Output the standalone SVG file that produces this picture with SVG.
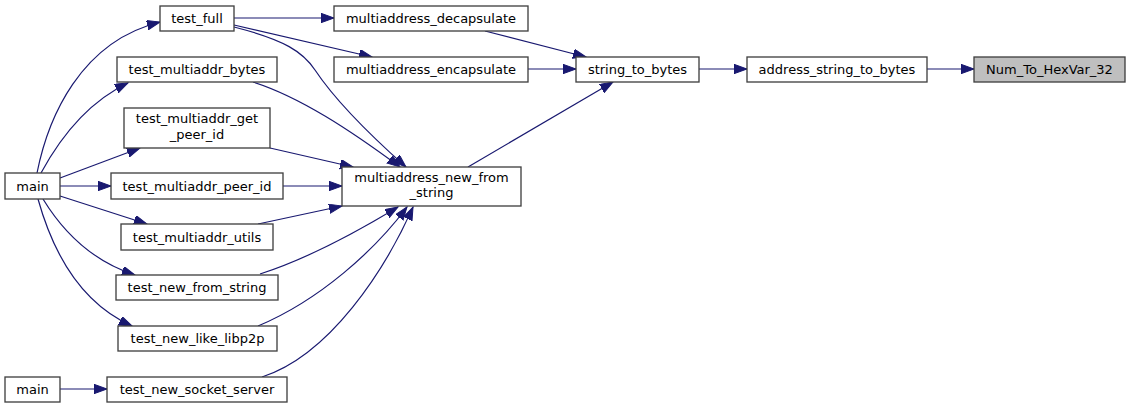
<svg xmlns="http://www.w3.org/2000/svg" width="1131" height="408" viewBox="0 0 1131 408">
<style>
.n rect{fill:#fff;stroke:#404040;stroke-width:1.33}
.n text{font-family:"DejaVu Sans",sans-serif;font-size:13px;fill:#000;text-anchor:middle}
.hl rect{fill:#bfbfbf}
#edges path{fill:none;stroke:#191970;stroke-width:1.2;marker-end:url(#ah)}
</style>
<defs>
<marker id="ah" markerUnits="userSpaceOnUse" markerWidth="15" markerHeight="11" refX="13" refY="4.7" orient="auto">
<path d="M0,0 L13,4.7 L0,9.4 z" fill="#191970" stroke="#191970" stroke-width="1"/>
</marker>
</defs>
<rect width="1131" height="408" fill="#fff"/>
<g id="edges">
<path d="M37,173 C48,118 80,42 160,22"/>
<path d="M41,173 C60,138 88,102 128,83"/>
<path d="M60,178 L140,148"/>
<path d="M60,186 L111,186"/>
<path d="M60,196 L147,224"/>
<path d="M43,199 C65,235 95,262 135,275"/>
<path d="M38,199 C55,260 85,305 132,326"/>
<path d="M60,389 L107,389"/>
<path d="M234,18 L334,18"/>
<path d="M234,25 L372,57"/>
<path d="M234,27 C285,40 303,52 315,70 C335,100 370,135 406,167"/>
<path d="M253,82 C300,97 350,130 400,167"/>
<path d="M270,148 L353,167"/>
<path d="M283,186 L342,186"/>
<path d="M258,224 L342,206"/>
<path d="M260,274 C310,258 360,230 398,207"/>
<path d="M258,326 C320,300 375,250 407,207"/>
<path d="M262,377 C330,355 385,270 413,207"/>
<path d="M485,31 L586,57"/>
<path d="M528,69 L576,69"/>
<path d="M468,167 L613,82"/>
<path d="M699,69 L747,69"/>
<path d="M927,69 L974,69"/>
</g>
<g id="test_full" class="n"><rect x="160" y="6" width="74" height="25"/><text x="197" y="23">test_full</text></g>
<g id="multiaddress_decapsulate" class="n"><rect x="334" y="6" width="194" height="25"/><text x="431" y="23">multiaddress_decapsulate</text></g>
<g id="multiaddress_encapsulate" class="n"><rect x="334" y="57" width="194" height="25"/><text x="431" y="74">multiaddress_encapsulate</text></g>
<g id="string_to_bytes" class="n"><rect x="576" y="57" width="123" height="25"/><text x="637.5" y="74">string_to_bytes</text></g>
<g id="address_string_to_bytes" class="n"><rect x="747" y="57" width="180" height="25"/><text x="837" y="74">address_string_to_bytes</text></g>
<g id="Num_To_HexVar_32" class="n hl"><rect x="974" y="57" width="151" height="25"/><text x="1049.5" y="74">Num_To_HexVar_32</text></g>
<g id="test_multiaddr_bytes" class="n"><rect x="117" y="57" width="160" height="25"/><text x="197" y="74">test_multiaddr_bytes</text></g>
<g id="test_multiaddr_get_peer_id" class="n"><rect x="124" y="108" width="146" height="40"/><text x="197" y="123">test_multiaddr_get</text><text x="197" y="139">_peer_id</text></g>
<g id="main1" class="n"><rect x="5" y="173" width="55" height="26"/><text x="32.5" y="191">main</text></g>
<g id="test_multiaddr_peer_id" class="n"><rect x="111" y="173" width="172" height="26"/><text x="197" y="191">test_multiaddr_peer_id</text></g>
<g id="test_multiaddr_utils" class="n"><rect x="121" y="224" width="152" height="26"/><text x="197" y="242">test_multiaddr_utils</text></g>
<g id="test_new_from_string" class="n"><rect x="116" y="275" width="162" height="25"/><text x="197" y="292">test_new_from_string</text></g>
<g id="test_new_like_libp2p" class="n"><rect x="118" y="326" width="159" height="25"/><text x="197.5" y="343">test_new_like_libp2p</text></g>
<g id="main2" class="n"><rect x="5" y="377" width="55" height="25"/><text x="32.5" y="394">main</text></g>
<g id="test_new_socket_server" class="n"><rect x="107" y="377" width="180" height="25"/><text x="197" y="394">test_new_socket_server</text></g>
<g id="multiaddress_new_from_string" class="n"><rect x="342" y="167" width="179" height="39"/><text x="431.5" y="182">multiaddress_new_from</text><text x="431.5" y="197">_string</text></g>
</svg>
